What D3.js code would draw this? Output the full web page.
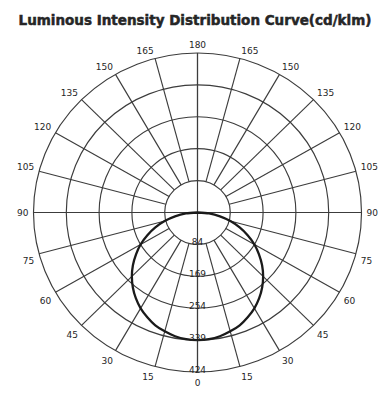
<!DOCTYPE html>
<html>
<head>
<meta charset="utf-8">
<script src="https://cdn.jsdelivr.net/npm/d3@7"></script>
<style>
  html, body { margin: 0; padding: 0; background: #fff; }
  svg { display: block; }
</style>
</head>
<body>
<script>
// Photometric data: intensity (cd/klm) per gamma angle (degrees from nadir)
const gammaAngles = [0, 5, 10, 15, 20, 25, 30, 35, 40, 45, 50, 55, 60, 65, 70, 75, 80, 85, 90];
const intensityC0 = [339, 338, 334, 327, 319, 307, 294, 278, 260, 240, 218, 194, 170, 143, 116, 88, 59, 30, 0];
const intensityC180 = [339, 338, 334, 327, 319, 307, 294, 278, 260, 240, 218, 194, 170, 143, 116, 88, 59, 30, 0];

// Grid rings and their labels
const ringValues = [84.8, 169.6, 254.4, 339.2, 424];
const ringLabels = ["84", "169", "254", "339", "424"];

// Angle ticks every 15 degrees
const tickAngles = [0, 15, 30, 45, 60, 75, 90, 105, 120, 135, 150, 165, 180];

const title = "Luminous Intensity Distribution Curve(cd/klm)";

const W = 382, H = 394;
const cx = 197.5, cy = 212.5, R = 164, sy = 0.9726;

const svg = d3.select("body").append("svg")
  .attr("width", W).attr("height", H);

svg.append("text")
  .attr("x", 195).attr("y", 25)
  .attr("text-anchor", "middle")
  .attr("font-family", "'DejaVu Sans', Verdana, sans-serif")
  .attr("font-weight", "bold")
  .attr("font-size", 13.5)
  .attr("fill", "#262626")
  .attr("stroke", "#262626")
  .attr("stroke-width", 0.5)
  .text(title);

const r = d3.scaleLinear().domain([0, 424]).range([0, R]);
const rad = d => d * Math.PI / 180;

const g = svg.append("g")
  .attr("transform", `translate(${cx},${cy}) scale(1,${sy})`);

const gridColor = "#3c3c3c";
const gridWidth = 1.15;

// concentric rings
g.selectAll("circle.ring")
  .data(ringValues)
  .join("circle")
  .attr("class", "ring")
  .attr("r", d => r(d))
  .attr("fill", "none")
  .attr("stroke", gridColor)
  .attr("stroke-width", gridWidth)
  .attr("vector-effect", "non-scaling-stroke");

// spokes from the first ring outwards, on both sides
const spokeDirs = [];
tickAngles.forEach(a => {
  spokeDirs.push(a);
  if (a !== 0 && a !== 180) spokeDirs.push(-a);
});
g.selectAll("line.spoke")
  .data(spokeDirs)
  .join("line")
  .attr("class", "spoke")
  .attr("x1", d => r(ringValues[0]) * Math.sin(rad(d)))
  .attr("y1", d => r(ringValues[0]) * Math.cos(rad(d)))
  .attr("x2", d => r(424) * Math.sin(rad(d)))
  .attr("y2", d => r(424) * Math.cos(rad(d)))
  .attr("stroke", gridColor)
  .attr("stroke-width", gridWidth)
  .attr("vector-effect", "non-scaling-stroke");

// main axes through the centre
g.append("line")
  .attr("x1", 0).attr("y1", -r(424)).attr("x2", 0).attr("y2", r(424))
  .attr("stroke", gridColor).attr("stroke-width", gridWidth)
  .attr("vector-effect", "non-scaling-stroke");
g.append("line")
  .attr("x1", -r(424)).attr("y1", 0).attr("x2", r(424)).attr("y2", 0)
  .attr("stroke", gridColor).attr("stroke-width", gridWidth)
  .attr("vector-effect", "non-scaling-stroke");

// intensity curve: C180 half on the left, C0 half on the right
const pts = [];
for (let i = gammaAngles.length - 1; i >= 0; i--) {
  pts.push([Math.PI + rad(gammaAngles[i]), intensityC180[i]]);
}
for (let i = 1; i < gammaAngles.length; i++) {
  pts.push([Math.PI - rad(gammaAngles[i]), intensityC0[i]]);
}
const curve = d3.lineRadial()
  .angle(d => d[0])
  .radius(d => r(d[1]))
  .curve(d3.curveCardinal.tension(0.3));

g.append("path")
  .attr("d", curve(pts))
  .attr("fill", "none")
  .attr("stroke", "#1a1a1a")
  .attr("stroke-width", 2.3)
  .attr("vector-effect", "non-scaling-stroke");

// ring value labels along the nadir axis
const labelFont = "'DejaVu Sans', Verdana, sans-serif";
svg.selectAll("text.ringlab")
  .data(ringValues)
  .join("text")
  .attr("class", "ringlab")
  .attr("x", cx)
  .attr("y", (d) => cy + r(d) * sy + 0.5)
  .attr("text-anchor", "middle")
  .attr("font-family", labelFont)
  .attr("font-size", 9)
  .attr("fill", "#262626")
  .text((d, i) => ringLabels[i]);

// angle labels around the outside
const off = 5;
const angleLabels = [];
tickAngles.forEach(a => {
  angleLabels.push({ a: a, side: 1 });
  if (a !== 0 && a !== 180) angleLabels.push({ a: a, side: -1 });
});
svg.selectAll("text.anglab")
  .data(angleLabels)
  .join("text")
  .attr("class", "anglab")
  .each(function(d) {
    const dx = Math.sin(rad(d.a)) * d.side;
    const dy = Math.cos(rad(d.a));
    const px = cx + (R + off) * dx;
    const py = cy + (R + off) * dy * sy;
    let anchor = "middle";
    if (dx < -0.01) anchor = "end";
    else if (dx > 0.01) anchor = "start";
    let by;
    if (dy < -0.01) by = py;
    else if (dy > 0.01) by = py + 9;
    else by = py + 3.3;
    d3.select(this)
      .attr("x", px).attr("y", by)
      .attr("text-anchor", anchor);
  })
  .attr("font-family", labelFont)
  .attr("font-size", 9)
  .attr("fill", "#262626")
  .text(d => String(d.a));
</script>
</body>
</html>
